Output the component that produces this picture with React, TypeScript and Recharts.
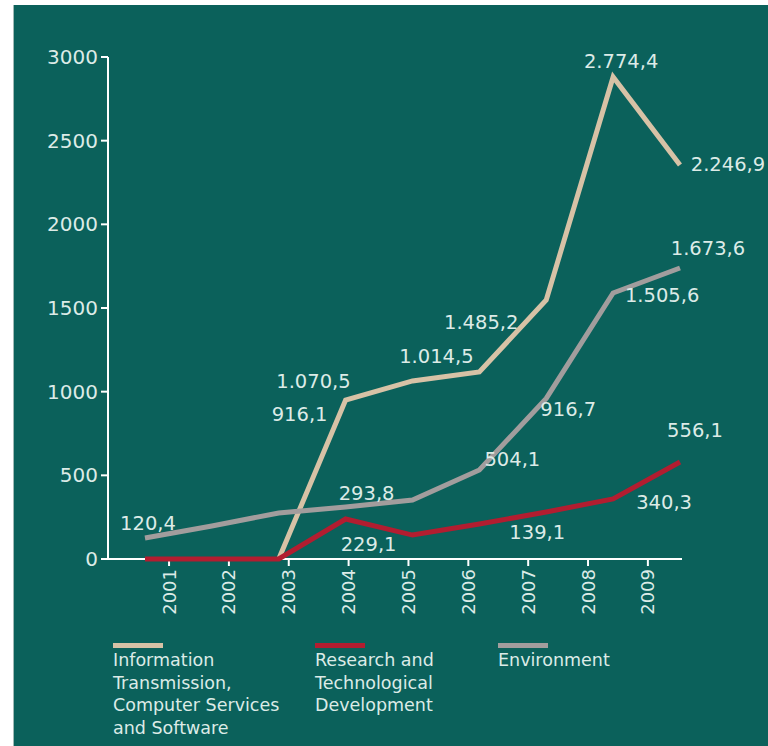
import React from "react";
import { LineChart, Line, XAxis, YAxis, LabelList } from "recharts";

// Werte (Lage der Linien, nicht die Beschriftungen)
const YEARS = [2001, 2002, 2003, 2004, 2005, 2006, 2007, 2008, 2009];
const ICT = [null, null, 0, 950, 1064, 1118, 1548, 2881, 2355];
const RTD = [0, 0, 0, 239, 143, 209, 281, 359, 580];
const ENV = [125, 197, 275, 311, 353, 532, 960, 1590, 1739];
const Y_TICKS = [0, 500, 1000, 1500, 2000, 2500, 3000];

// Beschriftungen wie im Original (stimmen nicht exakt mit den Linien überein)
const ICT_LABELS = [null, null, null, "916,1", "1.070,5", "1.014,5", "1.485,2", "2.774,4", "2.246,9"];
const RTD_LABELS = [null, null, null, "229,1", null, null, "139,1", "340,3", "556,1"];
const ENV_LABELS = ["120,4", null, null, "293,8", null, "504,1", "916,7", "1.505,6", "1.673,6"];

// Versatz der Beschriftungen zum Punkt [dx, dy]
const ICT_OFFSETS = [null, null, null, [-46, 14], [-99, 1], [-43, -15], [-65, 23], [8, -15], [48, 0]];
const RTD_OFFSETS = [null, null, null, [23, 25], null, null, [-9, 21], [51, 4], [15, -31]];
const ENV_OFFSETS = [[3, -15], null, null, [21, -13], null, [33, -10], [22, 11], [49, 3], [28, -20]];

const BG = "#0b615b";
const TEXT = "#dcebe7";
const BEIGE = "#d7c2a6";
const RED = "#b21d30";
const GREY = "#a29d9d";
const FONT = "'DejaVu Sans', sans-serif";

const rows = YEARS.map((year, i) => ({ year, ict: ICT[i], rtd: RTD[i], env: ENV[i] }));

function makeLabel(texts: (string | null)[], offsets: (number[] | null)[]) {
  return (props: any) => {
    const i = props.index;
    const t = texts[i];
    const off = offsets[i];
    if (!t || !off) return null;
    const x = props.x ?? props.viewBox?.x;
    const y = props.y ?? props.viewBox?.y;
    return (
      <text
        key={i}
        x={x + off[0]}
        y={y + off[1]}
        textAnchor="middle"
        dominantBaseline="central"
        fill={TEXT}
        fontSize={19.5}
        fontFamily={FONT}
      >
        {t}
      </text>
    );
  };
}

function YearTick({ x, y, payload }: any) {
  return (
    <text
      x={x}
      y={y}
      transform={`rotate(-90, ${x}, ${y})`}
      textAnchor="end"
      dominantBaseline="central"
      fill={TEXT}
      fontSize={18}
      fontFamily={FONT}
    >
      {payload.value}
    </text>
  );
}

const LEGEND = [
  { color: BEIGE, left: 113, lines: ["Information", "Transmission,", "Computer Services", "and Software"] },
  { color: RED, left: 315, lines: ["Research and", "Technological", "Development"] },
  { color: GREY, left: 498, lines: ["Environment"] },
];

export default function App() {
  return (
    <div style={{ position: "absolute", left: 0, top: 0, width: 768, height: 746, background: "#fff" }}>
      <div style={{ position: "absolute", left: 13, top: 5, right: 0, bottom: 0, background: BG, borderLeft: "1px solid #9fb9b5" }} />
      <div style={{ position: "absolute", left: 0, top: 0 }}>
        <LineChart width={768} height={746} data={rows} margin={{ top: 57, right: 86, left: 0, bottom: 127 }}>
          <XAxis xAxisId="p" type="number" dataKey="year" domain={[2000.447, 2009.03]} allowDataOverflow hide height={0} orientation="top" />
          <XAxis
            xAxisId="t"
            type="number"
            dataKey="year"
            domain={[1999.98, 2009.57]}
            allowDataOverflow
            ticks={YEARS}
            height={60}
            stroke="#fff"
            strokeWidth={2}
            tickSize={7}
            tick={<YearTick />}
            tickMargin={3}
          />
          <YAxis
            domain={[0, 3000]}
            ticks={Y_TICKS}
            width={108}
            stroke="#fff"
            strokeWidth={2}
            tickSize={7}
            tickMargin={3}
            tick={{ fill: TEXT, fontSize: 20, fontFamily: FONT }}
          />
          <Line xAxisId="p" dataKey="ict" stroke={BEIGE} strokeWidth={5} dot={false} isAnimationActive={false} strokeLinejoin="miter" zIndex={600}>
            <LabelList dataKey="ict" content={makeLabel(ICT_LABELS, ICT_OFFSETS)} />
          </Line>
          <Line xAxisId="p" dataKey="rtd" stroke={RED} strokeWidth={5} dot={false} isAnimationActive={false} strokeLinejoin="miter" zIndex={601}>
            <LabelList dataKey="rtd" content={makeLabel(RTD_LABELS, RTD_OFFSETS)} />
          </Line>
          <Line xAxisId="p" dataKey="env" stroke={GREY} strokeWidth={5} dot={false} isAnimationActive={false} strokeLinejoin="miter" zIndex={602}>
            <LabelList dataKey="env" content={makeLabel(ENV_LABELS, ENV_OFFSETS)} />
          </Line>
        </LineChart>
      </div>
      {LEGEND.map((item) => (
        <div key={item.left} style={{ position: "absolute", left: item.left, top: 643, fontFamily: FONT, fontSize: 17.5, lineHeight: "22.5px", color: TEXT }}>
          <div style={{ width: 50, height: 5, background: item.color, marginBottom: 1 }} />
          {item.lines.map((l) => (
            <div key={l} style={{ whiteSpace: "nowrap" }}>{l}</div>
          ))}
        </div>
      ))}
    </div>
  );
}
